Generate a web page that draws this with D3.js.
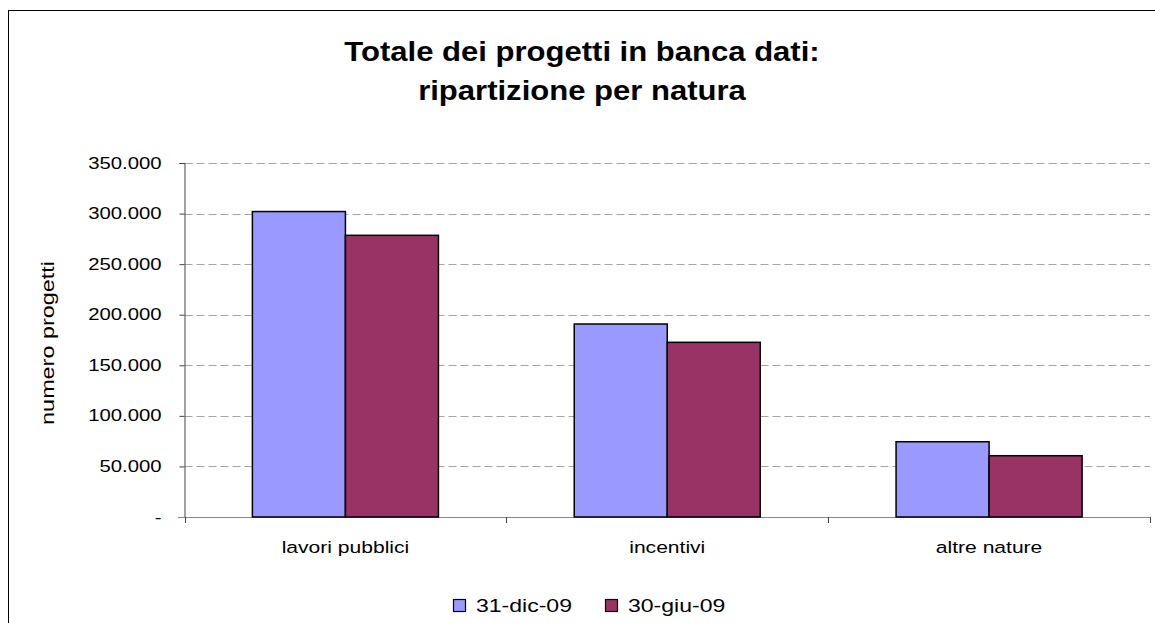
<!DOCTYPE html>
<html>
<head>
<meta charset="utf-8">
<script src="https://cdn.jsdelivr.net/npm/d3@7"></script>
<style>
  body { margin: 0; background: #fff; }
  svg { display: block; font-family: "Liberation Sans", Arial, sans-serif; }
</style>
</head>
<body>
<svg id="chart" width="1155" height="623"></svg>
<script>
// data
const categories = ["lavori pubblici", "incentivi", "altre nature"];
const seriesNames = ["31-dic-09", "30-giu-09"];
const dic09 = [302000, 190800, 74400];
const giu09 = [278500, 172700, 60600];
const yTicks = [0, 50000, 100000, 150000, 200000, 250000, 300000, 350000];
const colors = ["#9999ff", "#993366"];

const rows = categories.map((c, i) => ({ cat: c, values: [dic09[i], giu09[i]] }));

const svg = d3.select("#chart");
const plotLeft = 184.5, plotRight = 1150, plotTop = 163, plotBottom = 517;

// outer chart frame (cut by the picture at right and bottom)
svg.append("rect")
  .attr("x", 8.5).attr("y", 10.5)
  .attr("width", 1180).attr("height", 640)
  .attr("fill", "none").attr("stroke", "#000").attr("stroke-width", 1);

const it = d3.formatLocale({ decimal: ",", thousands: ".", grouping: [3], currency: ["€", ""] });
const fmt = (d) => (d === 0 ? "-" : it.format(",")(d));

const y = d3.scaleLinear().domain([0, 350000]).range([plotBottom, plotTop]);
const x0 = d3.scaleBand().domain(categories).range([plotLeft, plotRight]);
const x1 = d3.scaleBand().domain(seriesNames).range([0, x0.bandwidth()])
  .paddingInner(0).paddingOuter(0.73);

// horizontal stretch used by the original text rendering
const stretch = (sel, k) => {
  sel.each(function () {
    const t = d3.select(this);
    const xv = +t.attr("x") || 0;
    t.attr("x", xv / k).attr("transform", `scale(${k},1)`);
  });
};

// gridlines
svg.append("g")
  .selectAll("line")
  .data(yTicks.filter((d) => d > 0))
  .join("line")
  .attr("x1", plotLeft).attr("x2", plotRight)
  .attr("y1", (d) => Math.round(y(d)) + 0.5)
  .attr("y2", (d) => Math.round(y(d)) + 0.5)
  .attr("stroke", "#a6a6a6")
  .attr("stroke-dasharray", "8,4");

// y axis
const yAxis = svg.append("g")
  .attr("transform", `translate(${plotLeft},0)`)
  .call(d3.axisLeft(y).tickValues(yTicks).tickFormat(fmt).tickSize(5).tickPadding(18));
yAxis.select(".domain").attr("stroke", "#444");
yAxis.selectAll(".tick line").attr("stroke", "#444");
yAxis.selectAll(".tick text")
  .attr("font-size", 16).attr("fill", "#000")
  .attr("font-family", "Liberation Sans, Arial, sans-serif")
  .call(stretch, 1.27);

// x axis line and boundary ticks
svg.append("line")
  .attr("x1", 178).attr("x2", plotRight)
  .attr("y1", plotBottom + 0.5).attr("y2", plotBottom + 0.5)
  .attr("stroke", "#888");
const bounds = categories.map((c) => x0(c)).concat([x0(categories[2]) + x0.bandwidth()]);
svg.append("g")
  .selectAll("line")
  .data(bounds)
  .join("line")
  .attr("x1", (d) => Math.round(d) + 0.5).attr("x2", (d) => Math.round(d) + 0.5)
  .attr("y1", plotBottom).attr("y2", plotBottom + 6)
  .attr("stroke", "#444");

// category labels
const xAxis = svg.append("g")
  .attr("transform", `translate(0,${plotBottom})`)
  .call(d3.axisBottom(x0).tickSize(0).tickPadding(24));
xAxis.select(".domain").remove();
xAxis.selectAll(".tick text")
  .attr("font-size", 17).attr("fill", "#000")
  .attr("font-family", "Liberation Sans, Arial, sans-serif")
  .call(stretch, 1.24);

// bars
const groups = svg.append("g")
  .selectAll("g")
  .data(rows)
  .join("g")
  .attr("transform", (d) => `translate(${x0(d.cat)},0)`);
groups.selectAll("rect")
  .data((d) => d.values.map((v, i) => ({ s: seriesNames[i], v, i })))
  .join("rect")
  .attr("x", (d) => x1(d.s))
  .attr("y", (d) => y(d.v))
  .attr("width", x1.bandwidth())
  .attr("height", (d) => plotBottom - y(d.v))
  .attr("fill", (d) => colors[d.i])
  .attr("stroke", "#000")
  .attr("stroke-width", 1.5);

// title
const title = svg.append("text")
  .attr("font-size", 27).attr("font-weight", "bold")
  .attr("text-anchor", "middle");
title.append("tspan").attr("x", 582).attr("y", 61).text("Totale dei progetti in banca dati:");
title.append("tspan").attr("x", 582).attr("y", 100).text("ripartizione per natura");
title.attr("transform", "translate(582,0) scale(1.15,1) translate(-582,0)");

// y axis title
svg.append("text")
  .attr("transform", "translate(54,343) rotate(-90) scale(1.3,1)")
  .attr("text-anchor", "middle")
  .attr("font-size", 18)
  .text("numero progetti");

// legend
const legendX = [453, 605];
const legend = svg.append("g")
  .selectAll("g")
  .data(seriesNames)
  .join("g")
  .attr("transform", (d, i) => `translate(${legendX[i]},599)`);
legend.append("rect")
  .attr("x", 0.5).attr("y", 0.5)
  .attr("width", 12).attr("height", 12)
  .attr("fill", (d, i) => colors[i])
  .attr("stroke", "#000").attr("stroke-width", 1.2);
legend.append("text")
  .attr("x", 23).attr("y", 13)
  .attr("font-size", 18)
  .text((d) => d)
  .call(stretch, 1.28);
</script>
</body>
</html>
